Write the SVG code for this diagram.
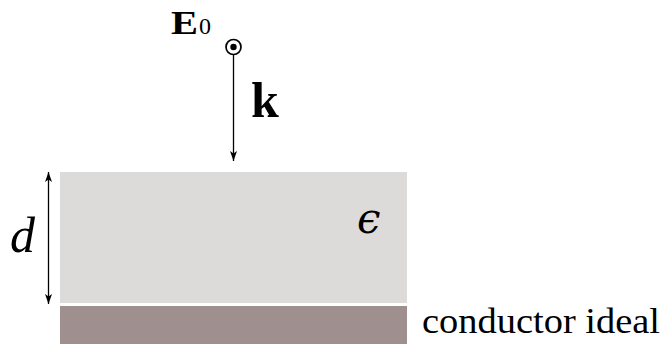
<svg xmlns="http://www.w3.org/2000/svg" width="662" height="344" viewBox="0 0 662 344">
<style>
.ln{stroke:#000;stroke-width:1.3;fill:none}
.tx{font-family:"Liberation Serif","DejaVu Serif",serif;fill:#000}
.gr{font-family:"DejaVu Serif",serif;fill:#000}
</style>
<defs>
<marker id="ah" viewBox="0 0 10 10" refX="10" refY="5" markerWidth="10" markerHeight="10" markerUnits="userSpaceOnUse" orient="auto-start-reverse">
<path d="M0,1.5 L10,5 L0,8.5 L2.5,5 Z" fill="#000"/>
</marker>
</defs>
<rect width="662" height="344" fill="#fff"/>
<g id="dielectric">
<rect x="60" y="172" width="347" height="131" fill="#dcdbda"/>
<text class="gr" x="357" y="233" style="font-size:42px;font-style:italic">ϵ</text>
</g>
<g id="conductor">
<rect x="60" y="306" width="347" height="38" fill="#9f8f8e"/>
<text class="tx" x="422" y="333" style="font-size:36px" textLength="238" lengthAdjust="spacingAndGlyphs">conductor ideal</text>
</g>
<g id="field">
<circle cx="233.5" cy="47" r="7.5" class="ln" style="stroke-width:1.7"/>
<circle cx="233.5" cy="47" r="3.2" fill="#000"/>
<text class="tx" x="171" y="34" style="font-size:33px;font-weight:bold" textLength="27" lengthAdjust="spacingAndGlyphs">E</text>
<text class="tx" x="199" y="34" style="font-size:24px">0</text>
</g>
<g id="wavevector">
<text class="tx" x="251" y="117" style="font-size:50px;font-weight:bold">k</text>
</g>
<g id="thickness">
<text class="tx" x="10" y="252" style="font-size:50px;font-style:italic">d</text>
</g>
<g id="connectors">
<line x1="233.5" y1="55" x2="233.5" y2="161" class="ln" marker-end="url(#ah)"/>
<line x1="48.5" y1="172" x2="48.5" y2="304" class="ln" marker-start="url(#ah)" marker-end="url(#ah)"/>
</g>
</svg>
